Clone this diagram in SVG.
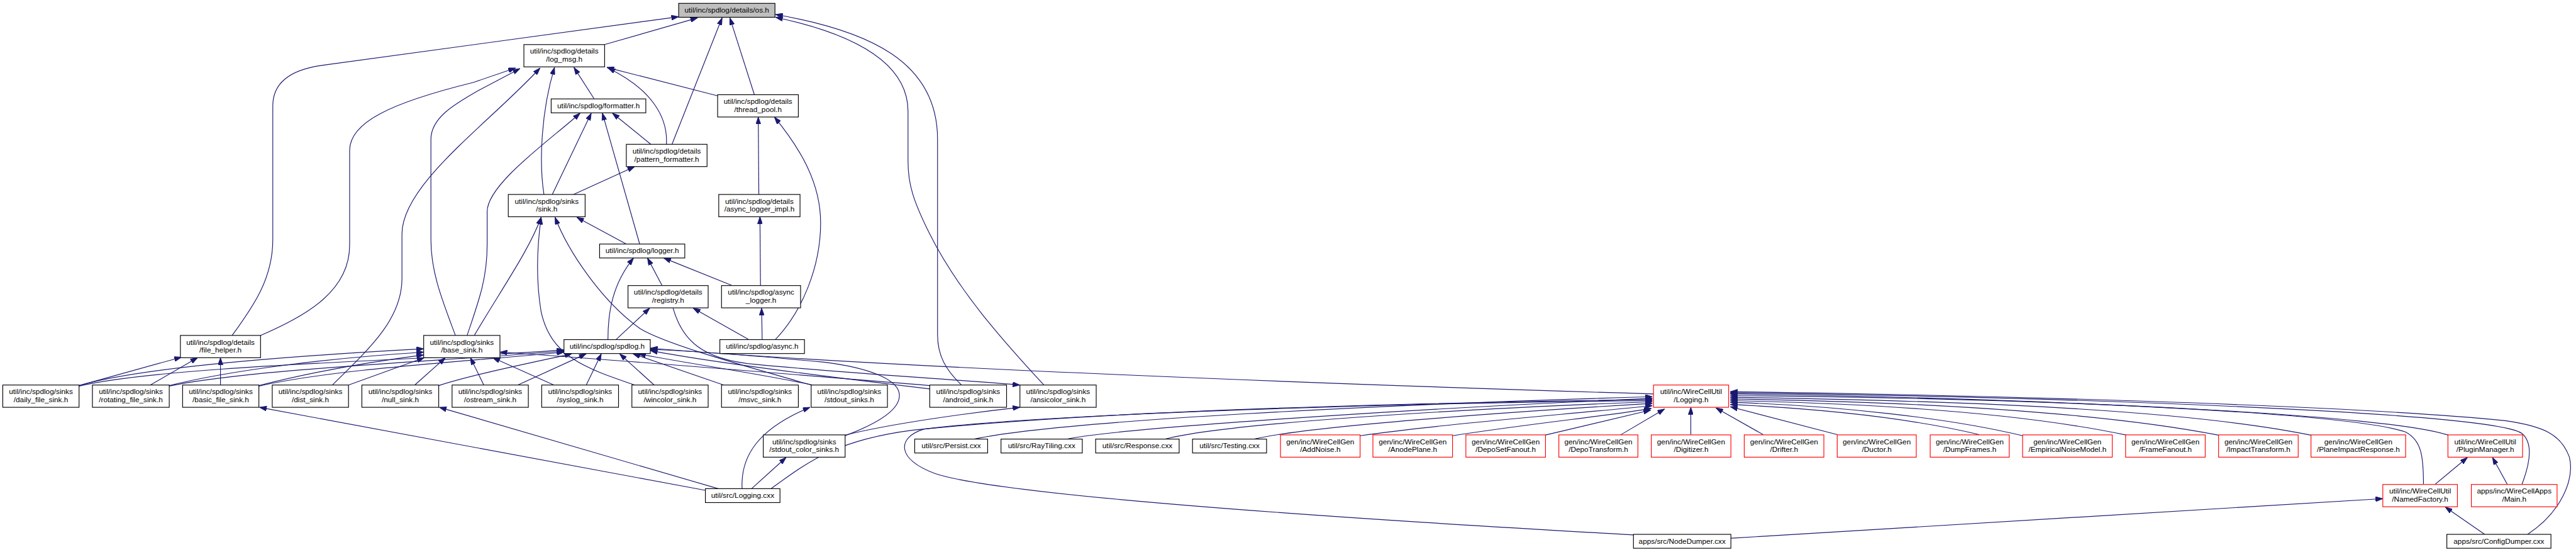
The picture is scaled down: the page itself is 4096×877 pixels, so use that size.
<svg xmlns="http://www.w3.org/2000/svg" width="4096" height="877" viewBox="0 0 4096 877">
<style>
.n rect{fill:#fff;stroke:#000;stroke-width:1.3}
.r rect{stroke:#f00}
.g rect{fill:#bfbfbf}
text{font-family:"Liberation Sans",Arial,Helvetica,sans-serif;font-size:13.33px;text-anchor:middle;fill:#000}
.e path{fill:none;stroke:#191970;stroke-width:1.3;marker-end:url(#a)}
</style>
<defs>
<marker id="a" viewBox="0 0 13 9" refX="13" refY="4.5" markerUnits="userSpaceOnUse" markerWidth="13" markerHeight="9" orient="auto"><path d="M0,0 L13,4.5 L0,9 z" fill="#191970" stroke="#191970" stroke-width="1"/></marker>
</defs>
<rect width="4096" height="877" fill="#fff"/>
<g transform="scale(0.88524)">
<g id="connectors" class="e">
<path d="M1086,80 L1253,32"/>
<path d="M417,602 C455,550 490,500 490,430 L490,190 C490,150 520,125 580,117 L1219,30"/>
<path d="M468,602 C555,565 628,520 628,440 L628,270 C628,220 700,185 850,148 L926,122"/>
<path d="M818,602 C795,540 774,490 774,430 L774,250 C774,210 820,185 860,162 L934,123"/>
<path d="M597,691 C670,620 722,570 722,500 L722,420 C722,330 880,220 970,122"/>
<path d="M977,349 C968,290 972,200 996,121"/>
<path d="M1067,177 L1031,121"/>
<path d="M1289,172 L1090,121"/>
<path d="M1197,259 C1200,210 1170,160 1092,122"/>
<path d="M1207,259 L1297,32"/>
<path d="M1355,170 L1311,32"/>
<path d="M1727,691 C1700,665 1684,640 1684,600 L1684,250 C1684,110 1560,55 1393,26"/>
<path d="M1875,691 C1800,610 1720,520 1670,420 C1640,360 1631,330 1631,290 L1631,200 C1631,110 1530,60 1393,31"/>
<path d="M1169,259 L1100,203"/>
<path d="M992,349 L1062,203"/>
<path d="M1030,349 L1140,299"/>
<path d="M839,602 C860,540 875,500 875,440 L875,380 C875,330 990,250 1042,203"/>
<path d="M852,602 C900,520 950,450 972,390"/>
<path d="M1140,691 C1050,660 990,640 972,560 C962,500 965,440 972,390"/>
<path d="M1457,691 C1350,660 1200,620 1150,590 C1080,540 1020,450 997,390"/>
<path d="M1125,438 L1036,390"/>
<path d="M1149,438 L1082,203"/>
<path d="M1189,512 L1163,463"/>
<path d="M1314,512 L1192,463"/>
<path d="M1366,512 L1365,389"/>
<path d="M1363,349 L1362,210"/>
<path d="M1369,609 L1368,553"/>
<path d="M1344,609 L1245,553"/>
<path d="M1393,609 C1440,560 1474,480 1474,400 C1474,330 1440,270 1391,210"/>
<path d="M1107,609 L1167,553"/>
<path d="M1092,609 C1092,560 1100,510 1138,463"/>
<path d="M142,692 L326,641"/>
<path d="M270,691 L355,642"/>
<path d="M396,691 L396,642"/>
<path d="M142,692 C250,660 500,640 761,626"/>
<path d="M304,692 C420,663 600,642 761,632"/>
<path d="M465,692 C560,668 660,650 761,637"/>
<path d="M142,693 C300,655 800,645 1013,628"/>
<path d="M304,693 C450,662 800,648 1013,630"/>
<path d="M465,693 C600,662 850,648 1013,632"/>
<path d="M626,691 L762,642"/>
<path d="M745,691 L800,642"/>
<path d="M869,691 L845,642"/>
<path d="M995,691 L885,642"/>
<path d="M788,692 C850,672 950,652 1027,635"/>
<path d="M930,691 L1053,635"/>
<path d="M1053,691 L1080,635"/>
<path d="M1175,691 L1113,635"/>
<path d="M1300,691 L1137,635"/>
<path d="M1460,691 C1350,668 1220,650 1147,635"/>
<path d="M1670,698 C1450,672 1250,645 1168,629"/>
<path d="M1670,692 C1400,670 1100,645 898,632"/>
<path d="M1209,553 C1225,610 1260,645 1357,654 C1500,668 1700,680 1832,691"/>
<path d="M1518,781 C1600,760 1750,740 1832,731"/>
<path d="M1518,782 C1590,755 1620,730 1615,705 C1610,680 1560,660 1480,650 C1350,638 1250,630 1168,627"/>
<path d="M2970,707 C2400,690 1600,660 1168,625"/>
<path d="M1267,880 L466,731"/>
<path d="M1290,877 L789,731"/>
<path d="M1333,877 C1330,820 1360,770 1455,731"/>
<path d="M1350,877 L1412,821"/>
<path d="M1385,877 C1450,830 1500,790 1640,772 C2000,735 2600,722 2968,717"/>
<path d="M2934,960 C2400,930 1800,890 1680,850 C1610,825 1610,785 1660,770 C1900,740 2600,722 2968,719"/>
<path d="M1750,788 C1900,755 2500,725 2968,712"/>
<path d="M1917,788 C2000,770 2500,735 2968,715"/>
<path d="M2093,788 C2200,760 2600,735 2968,721"/>
<path d="M2253,788 C2350,765 2700,740 2968,724"/>
<path d="M2443,782 C2600,760 2800,745 2968,728"/>
<path d="M2609,782 C2750,760 2900,745 2966,733"/>
<path d="M2775,781 L2965,736"/>
<path d="M2910,781 L2990,734"/>
<path d="M3037,780 L3037,731"/>
<path d="M3167,780 L3082,732"/>
<path d="M3300,780 L3108,730"/>
<path d="M3555,780 C3450,755 3300,735 3108,726"/>
<path d="M3633,782 C3500,750 3300,728 3108,722"/>
<path d="M3820,781 C3650,745 3400,725 3108,719"/>
<path d="M3985,781 C3800,745 3500,722 3108,716"/>
<path d="M4151,781 C3950,740 3600,720 3108,713"/>
<path d="M4400,782 C4300,745 3700,715 3108,710"/>
<path d="M4353,869 C4353,820 4350,790 4320,775 C4200,735 3500,712 3108,707"/>
<path d="M4530,869 C4545,830 4550,795 4530,778 C4480,740 3700,712 3108,705"/>
<path d="M4540,959 C4600,920 4625,860 4615,820 C4600,780 4570,765 4500,755 C4200,725 3500,708 3108,703"/>
<path d="M4373,870 L4432,821"/>
<path d="M4504,870 L4477,821"/>
<path d="M3109,966 L4280,895"/>
<path d="M4463,959 L4392,910"/>
</g>
<g id="os" class="n g"><rect x="1219" y="6" width="173" height="25"/><text x="1305.5" y="22.5">util/inc/spdlog/details/os.h</text></g>
<g id="log_msg" class="n"><rect x="941" y="80" width="145" height="40"/><text x="1013.5" y="96.5">util/inc/spdlog/details</text><text x="1013.5" y="111">/log_msg.h</text></g>
<g id="formatter" class="n"><rect x="990" y="177.5" width="170" height="25"/><text x="1075" y="194">util/inc/spdlog/formatter.h</text></g>
<g id="thread_pool" class="n"><rect x="1289" y="170" width="145" height="40"/><text x="1361.5" y="186.5">util/inc/spdlog/details</text><text x="1361.5" y="201">/thread_pool.h</text></g>
<g id="pattern_formatter" class="n"><rect x="1125" y="259" width="145" height="40"/><text x="1197.5" y="275.5">util/inc/spdlog/details</text><text x="1197.5" y="290">/pattern_formatter.h</text></g>
<g id="sink" class="n"><rect x="913" y="349" width="138" height="40"/><text x="982" y="365.5">util/inc/spdlog/sinks</text><text x="982" y="380">/sink.h</text></g>
<g id="async_logger_impl" class="n"><rect x="1291" y="349" width="146" height="40"/><text x="1364" y="365.5">util/inc/spdlog/details</text><text x="1364" y="380">/async_logger_impl.h</text></g>
<g id="logger" class="n"><rect x="1077" y="438" width="153" height="25"/><text x="1153.5" y="454.5">util/inc/spdlog/logger.h</text></g>
<g id="registry" class="n"><rect x="1128" y="512.5" width="144" height="40"/><text x="1200" y="529">util/inc/spdlog/details</text><text x="1200" y="543.5">/registry.h</text></g>
<g id="async_logger" class="n"><rect x="1296" y="512.5" width="142" height="40"/><text x="1367" y="529">util/inc/spdlog/async</text><text x="1367" y="543.5">_logger.h</text></g>
<g id="file_helper" class="n"><rect x="324" y="602" width="144" height="40"/><text x="396" y="618.5">util/inc/spdlog/details</text><text x="396" y="633">/file_helper.h</text></g>
<g id="base_sink" class="n"><rect x="761" y="602" width="137" height="40"/><text x="829.5" y="618.5">util/inc/spdlog/sinks</text><text x="829.5" y="633">/base_sink.h</text></g>
<g id="spdlog" class="n"><rect x="1013" y="609.5" width="155" height="25"/><text x="1090.5" y="626">util/inc/spdlog/spdlog.h</text></g>
<g id="async" class="n"><rect x="1293" y="609.5" width="152" height="25"/><text x="1369" y="626">util/inc/spdlog/async.h</text></g>
<g id="daily_file_sink" class="n"><rect x="5" y="691" width="137" height="40"/><text x="73.5" y="707.5">util/inc/spdlog/sinks</text><text x="73.5" y="722">/daily_file_sink.h</text></g>
<g id="rotating_file_sink" class="n"><rect x="166" y="691" width="138" height="40"/><text x="235" y="707.5">util/inc/spdlog/sinks</text><text x="235" y="722">/rotating_file_sink.h</text></g>
<g id="basic_file_sink" class="n"><rect x="328" y="691" width="137" height="40"/><text x="396.5" y="707.5">util/inc/spdlog/sinks</text><text x="396.5" y="722">/basic_file_sink.h</text></g>
<g id="dist_sink" class="n"><rect x="489" y="691" width="137" height="40"/><text x="557.5" y="707.5">util/inc/spdlog/sinks</text><text x="557.5" y="722">/dist_sink.h</text></g>
<g id="null_sink" class="n"><rect x="650" y="691" width="138" height="40"/><text x="719" y="707.5">util/inc/spdlog/sinks</text><text x="719" y="722">/null_sink.h</text></g>
<g id="ostream_sink" class="n"><rect x="812" y="691" width="137" height="40"/><text x="880.5" y="707.5">util/inc/spdlog/sinks</text><text x="880.5" y="722">/ostream_sink.h</text></g>
<g id="syslog_sink" class="n"><rect x="973" y="691" width="138" height="40"/><text x="1042" y="707.5">util/inc/spdlog/sinks</text><text x="1042" y="722">/syslog_sink.h</text></g>
<g id="wincolor_sink" class="n"><rect x="1135" y="691" width="137" height="40"/><text x="1203.5" y="707.5">util/inc/spdlog/sinks</text><text x="1203.5" y="722">/wincolor_sink.h</text></g>
<g id="msvc_sink" class="n"><rect x="1296" y="691" width="138" height="40"/><text x="1365" y="707.5">util/inc/spdlog/sinks</text><text x="1365" y="722">/msvc_sink.h</text></g>
<g id="stdout_sinks" class="n"><rect x="1457" y="691" width="137" height="40"/><text x="1525.5" y="707.5">util/inc/spdlog/sinks</text><text x="1525.5" y="722">/stdout_sinks.h</text></g>
<g id="android_sink" class="n"><rect x="1670" y="691" width="138" height="40"/><text x="1739" y="707.5">util/inc/spdlog/sinks</text><text x="1739" y="722">/android_sink.h</text></g>
<g id="ansicolor_sink" class="n"><rect x="1832" y="691" width="137" height="40"/><text x="1900.5" y="707.5">util/inc/spdlog/sinks</text><text x="1900.5" y="722">/ansicolor_sink.h</text></g>
<g id="Logging_h" class="n r"><rect x="2970" y="691" width="135" height="40"/><text x="3037.5" y="707.5">util/inc/WireCellUtil</text><text x="3037.5" y="722">/Logging.h</text></g>
<g id="stdout_color_sinks" class="n"><rect x="1371" y="780.5" width="147" height="40"/><text x="1444.5" y="797">util/inc/spdlog/sinks</text><text x="1444.5" y="811.5">/stdout_color_sinks.h</text></g>
<g id="Persist" class="n"><rect x="1643" y="788" width="131" height="25"/><text x="1708.5" y="804.5">util/src/Persist.cxx</text></g>
<g id="RayTiling" class="n"><rect x="1798" y="788" width="146" height="25"/><text x="1871" y="804.5">util/src/RayTiling.cxx</text></g>
<g id="Response" class="n"><rect x="1968" y="788" width="150" height="25"/><text x="2043" y="804.5">util/src/Response.cxx</text></g>
<g id="Testing" class="n"><rect x="2142" y="788" width="133" height="25"/><text x="2208.5" y="804.5">util/src/Testing.cxx</text></g>
<g id="AddNoise" class="n r"><rect x="2300" y="780.5" width="143" height="40"/><text x="2371.5" y="797">gen/inc/WireCellGen</text><text x="2371.5" y="811.5">/AddNoise.h</text></g>
<g id="AnodePlane" class="n r"><rect x="2466" y="780.5" width="143" height="40"/><text x="2537.5" y="797">gen/inc/WireCellGen</text><text x="2537.5" y="811.5">/AnodePlane.h</text></g>
<g id="DepoSetFanout" class="n r"><rect x="2633" y="780.5" width="143" height="40"/><text x="2704.5" y="797">gen/inc/WireCellGen</text><text x="2704.5" y="811.5">/DepoSetFanout.h</text></g>
<g id="DepoTransform" class="n r"><rect x="2800" y="780.5" width="142" height="40"/><text x="2871" y="797">gen/inc/WireCellGen</text><text x="2871" y="811.5">/DepoTransform.h</text></g>
<g id="Digitizer" class="n r"><rect x="2966" y="780.5" width="143" height="40"/><text x="3037.5" y="797">gen/inc/WireCellGen</text><text x="3037.5" y="811.5">/Digitizer.h</text></g>
<g id="Drifter" class="n r"><rect x="3133" y="780.5" width="143" height="40"/><text x="3204.5" y="797">gen/inc/WireCellGen</text><text x="3204.5" y="811.5">/Drifter.h</text></g>
<g id="Ductor" class="n r"><rect x="3300" y="780.5" width="142" height="40"/><text x="3371" y="797">gen/inc/WireCellGen</text><text x="3371" y="811.5">/Ductor.h</text></g>
<g id="DumpFrames" class="n r"><rect x="3467" y="780.5" width="142" height="40"/><text x="3538" y="797">gen/inc/WireCellGen</text><text x="3538" y="811.5">/DumpFrames.h</text></g>
<g id="EmpiricalNoiseModel" class="n r"><rect x="3633" y="780.5" width="161" height="40"/><text x="3713.5" y="797">gen/inc/WireCellGen</text><text x="3713.5" y="811.5">/EmpiricalNoiseModel.h</text></g>
<g id="FrameFanout" class="n r"><rect x="3818" y="780.5" width="143" height="40"/><text x="3889.5" y="797">gen/inc/WireCellGen</text><text x="3889.5" y="811.5">/FrameFanout.h</text></g>
<g id="ImpactTransform" class="n r"><rect x="3985" y="780.5" width="143" height="40"/><text x="4056.5" y="797">gen/inc/WireCellGen</text><text x="4056.5" y="811.5">/ImpactTransform.h</text></g>
<g id="PlaneImpactResponse" class="n r"><rect x="4151" y="780.5" width="170" height="40"/><text x="4236" y="797">gen/inc/WireCellGen</text><text x="4236" y="811.5">/PlaneImpactResponse.h</text></g>
<g id="PluginManager" class="n r"><rect x="4397" y="780.5" width="134" height="40"/><text x="4464" y="797">util/inc/WireCellUtil</text><text x="4464" y="811.5">/PluginManager.h</text></g>
<g id="Logging_cxx" class="n"><rect x="1267" y="877" width="134" height="25"/><text x="1334" y="893.5">util/src/Logging.cxx</text></g>
<g id="NamedFactory" class="n r"><rect x="4280" y="869.5" width="134" height="40"/><text x="4347" y="886">util/inc/WireCellUtil</text><text x="4347" y="900.5">/NamedFactory.h</text></g>
<g id="Main" class="n r"><rect x="4439" y="869.5" width="154" height="40"/><text x="4516" y="886">apps/inc/WireCellApps</text><text x="4516" y="900.5">/Main.h</text></g>
<g id="NodeDumper" class="n"><rect x="2934" y="959" width="175" height="25"/><text x="3021.5" y="975.5">apps/src/NodeDumper.cxx</text></g>
<g id="ConfigDumper" class="n"><rect x="4395" y="959" width="187" height="25"/><text x="4488.5" y="975.5">apps/src/ConfigDumper.cxx</text></g>
</g>
</svg>
